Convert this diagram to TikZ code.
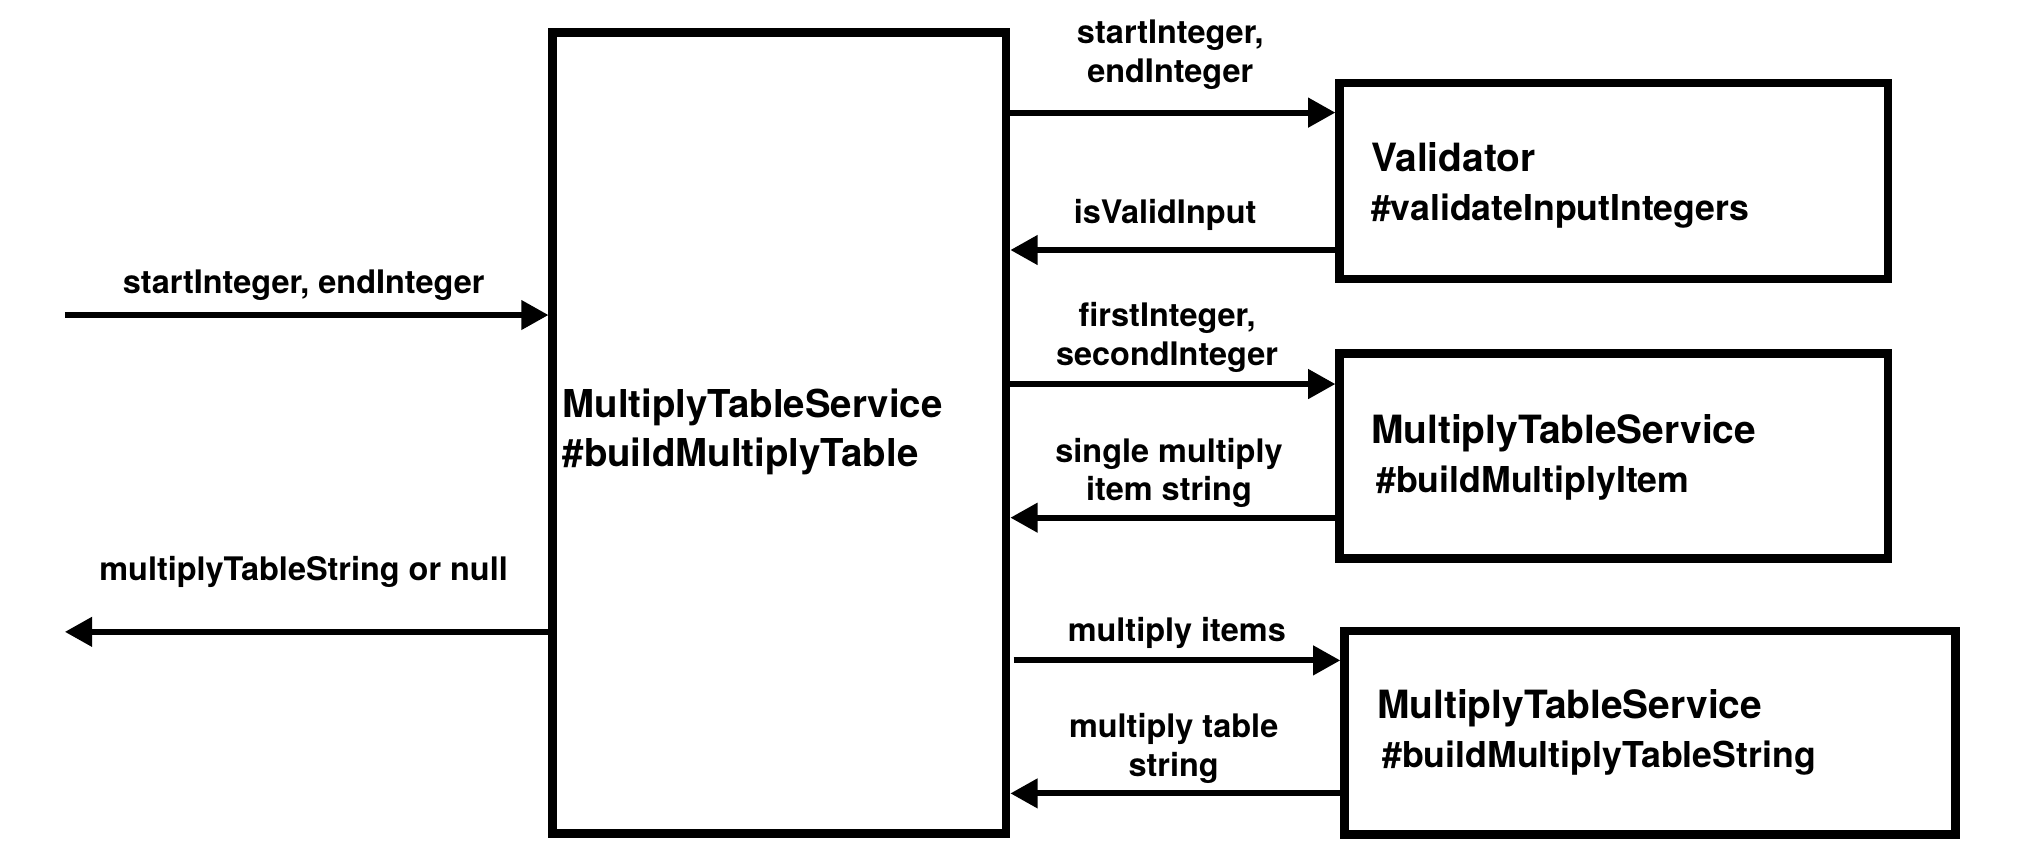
\documentclass[tikz,border=0pt]{standalone}
\usepackage{fontspec}
\setmainfont{TeX Gyre Heros}
\usetikzlibrary{arrows.meta}
\begin{document}
\begin{tikzpicture}[x=1pt,y=-1pt,
  box/.style={draw,line width=6.5pt,inner sep=0pt},
  arr/.style={line width=4.5pt,-{Triangle[length=21pt,width=22pt]}},
  blab/.style={anchor=west,inner sep=0pt,align=left,font=\fontsize{29.6}{37.5}\selectfont\bfseries},
  alab/.style={inner sep=0pt,align=center,font=\fontsize{25}{30}\selectfont\bfseries}]
\useasboundingbox (0,0) rectangle (1560,661);
% boxes
\node[box,minimum width=349.5pt,minimum height=617.5pt] (main) at (600.75,333.75) {};
\node[box,minimum width=422.5pt,minimum height=151.1pt] (val) at (1243.75,139.35) {};
\node[box,minimum width=422.5pt,minimum height=157.8pt] (item) at (1243.75,351.4) {};
\node[box,minimum width=471pt,minimum height=156.8pt] (tstr) at (1271.8,564.8) {};
% box labels
\node[blab] (mainl) at (433.5,333) {MultiplyTableService\\\#buildMultiplyTable};
\node[blab] (vall) at (1056.6,143) {{\fontsize{30}{37.5}\selectfont Validator}\\{\fontsize{27.5}{37.5}\selectfont\#validateInputIntegers}};
\node[blab] (iteml) at (1056.6,352.5) {{\fontsize{30}{37.5}\selectfont MultiplyTableService}\\{\fontsize{27.5}{37.5}\selectfont\hspace{4pt}\#buildMultiplyItem}};
\node[blab] (tstrl) at (1061.2,564.5) {{\fontsize{30}{37.5}\selectfont MultiplyTableService}\\{\fontsize{27.5}{37.5}\selectfont\hspace{4pt}\#buildMultiplyTableString}};
% free ends
\coordinate (inL) at (50,242.8);
\coordinate (outL) at (50,487);
% connectors
\draw[arr] (inL) -- (main.west |- inL);
\draw[arr] (main.west |- outL) -- (outL);
\draw[arr] (main.east |- 0,86.8) -- (val.west |- 0,86.8);
\draw[arr] (val.west |- 0,192.7) -- (main.east |- 0,192.7);
\draw[arr] (main.east |- 0,296) -- (item.west |- 0,296);
\draw[arr] (item.west |- 0,399) -- (main.east |- 0,399);
\draw[arr,shorten <=2.5pt] (main.east |- 0,509) -- (tstr.west |- 0,509);
\draw[arr] (tstr.west |- 0,611.5) -- (main.east |- 0,611.5);
% connector labels
\node[alab] (l0) at (234,220) {startInteger, endInteger};
\node[alab] (l9) at (234,441) {multiplyTableString or null};
\node[alab] (l1) at (902,42) {startInteger,\\endInteger};
\node[alab] (l2) at (898,166) {isValidInput};
\node[alab] (l3) at (899.5,260) {firstInteger,\\secondInteger};
\node[alab] (l4) at (901,364.5) {single multiply\\item string};
\node[alab] (l5) at (907,487.5) {multiply items};
\node[alab] (l6) at (904.6,577) {multiply table\\string};
\end{tikzpicture}
\end{document}
